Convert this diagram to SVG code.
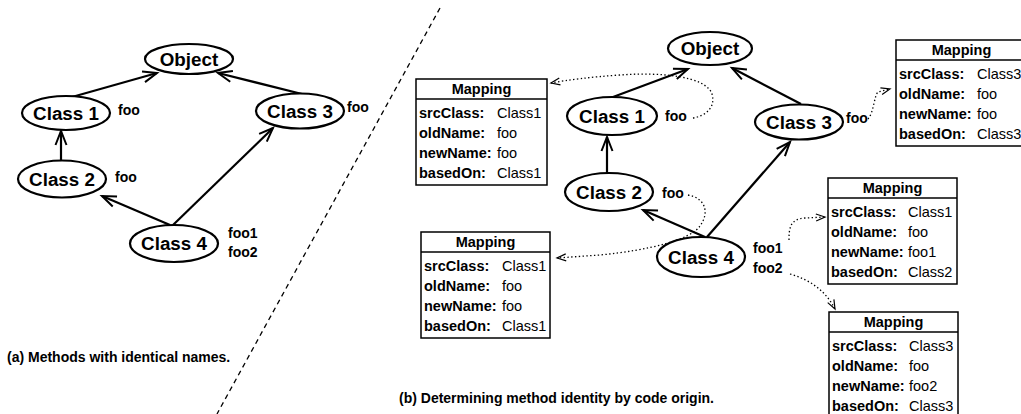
<svg xmlns="http://www.w3.org/2000/svg" width="1021" height="414" viewBox="0 0 1021 414">
  <style>
    .cls ellipse { fill: #fff; stroke: #000; stroke-width: 2.2; }
    .cls text { font-family: "Liberation Sans", Arial, sans-serif; font-weight: bold; font-size: 18.8px; text-anchor: middle; fill: #000; }
    .meth { font-family: "Liberation Sans", Arial, sans-serif; font-weight: bold; font-size: 14px; fill: #000; }
    .inh { stroke: #000; stroke-width: 2.2; fill: none; marker-end: url(#open); }
    .orig { stroke: #000; stroke-width: 1.3; fill: none; stroke-dasharray: 1.4 2.4; marker-end: url(#openSmall); }
    .map rect { fill: #fff; stroke: #000; stroke-width: 1.5; }
    .map line { stroke: #000; stroke-width: 1.5; }
    .map text { font-family: "Liberation Sans", Arial, sans-serif; font-size: 14.5px; fill: #000; }
    .map .hd { font-weight: bold; text-anchor: middle; }
    .map .k { font-weight: bold; }
    .cap { font-family: "Liberation Sans", Arial, sans-serif; font-weight: bold; font-size: 14px; fill: #000; }
  </style>
  <defs>
    <marker id="open" markerUnits="userSpaceOnUse" markerWidth="18" markerHeight="14" refX="15" refY="7" orient="auto">
      <path d="M1,1.5 L15,7 L1,12.5" fill="none" stroke="#000" stroke-width="2"/>
    </marker>
    <marker id="openSmall" markerUnits="userSpaceOnUse" markerWidth="12" markerHeight="10" refX="10" refY="5" orient="auto">
      <path d="M1,1.5 L10,5 L1,8.5" fill="none" stroke="#000" stroke-width="1.2"/>
    </marker>
  </defs>

  <!-- separator between the two halves -->
  <line x1="440" y1="8" x2="217" y2="414" stroke="#000" stroke-width="1.3" stroke-dasharray="5 4"/>

  <!-- (a) inheritance with same-named methods -->
  <g id="connectors-a">
    <line class="inh" x1="72" y1="97" x2="157" y2="73"/>
    <line class="inh" x1="302" y1="94" x2="218" y2="73"/>
    <line class="inh" x1="61" y1="161" x2="61" y2="131"/>
    <line class="inh" x1="170" y1="225" x2="102" y2="196"/>
    <line class="inh" x1="173" y1="225" x2="273" y2="128"/>
  </g>
  <g id="a-object" class="cls"><ellipse cx="189" cy="59" rx="44" ry="15"/><text x="189" y="65.5">Object</text></g>
  <g id="a-class1" class="cls"><ellipse cx="66" cy="113" rx="44" ry="17"/><text x="66" y="119.5">Class 1</text></g>
  <g id="a-class3" class="cls"><ellipse cx="300" cy="111" rx="44" ry="17.5"/><text x="300" y="117.5">Class 3</text></g>
  <g id="a-class2" class="cls"><ellipse cx="62" cy="179" rx="44" ry="18.5"/><text x="62" y="185.5">Class 2</text></g>
  <g id="a-class4" class="cls"><ellipse cx="174" cy="243.5" rx="44" ry="18.5"/><text x="174" y="250">Class 4</text></g>
  <g id="a-methods">
    <text class="meth" x="118" y="115">foo</text>
    <text class="meth" x="347" y="112">foo</text>
    <text class="meth" x="115" y="182">foo</text>
    <text class="meth" x="228" y="238">foo1</text>
    <text class="meth" x="228" y="257">foo2</text>
  </g>
  <text class="cap" x="7" y="362">(a) Methods with identical names.</text>

  <!-- (b) method identity traced by code origin -->
  <g id="connectors-b">
    <line class="inh" x1="613" y1="97" x2="688" y2="69"/>
    <line class="inh" x1="801" y1="104" x2="732" y2="68"/>
    <line class="inh" x1="607" y1="173" x2="607" y2="137"/>
    <line class="inh" x1="705" y1="237" x2="643" y2="210"/>
    <line class="inh" x1="707" y1="237" x2="790" y2="142"/>
    <path class="orig" d="M693,118 C705,116 716,108 712,94 C706,76 660,72 620,75 C590,77 568,80 551,83"/>
    <path class="orig" d="M688,195 C705,198 710,212 700,226 C690,240 650,250 600,255 L557,258"/>
    <path class="orig" d="M868,119 C874,112 874,96 878,92 L890,89"/>
    <path class="orig" d="M789,240 C789,228 790,219 805,218 L825,217"/>
    <path class="orig" d="M790,274 C810,280 825,290 835,309"/>
  </g>
  <g id="b-object" class="cls"><ellipse cx="710" cy="48.5" rx="42" ry="16.5"/><text x="710" y="55">Object</text></g>
  <g id="b-class1" class="cls"><ellipse cx="612" cy="116" rx="45" ry="19"/><text x="612" y="122.5">Class 1</text></g>
  <g id="b-class3" class="cls"><ellipse cx="799" cy="122" rx="44" ry="17.5"/><text x="799" y="128.5">Class 3</text></g>
  <g id="b-class2" class="cls"><ellipse cx="609" cy="192" rx="44" ry="19"/><text x="609" y="198.5">Class 2</text></g>
  <g id="b-class4" class="cls"><ellipse cx="701" cy="257" rx="44" ry="20"/><text x="701" y="263.5">Class 4</text></g>
  <g id="b-methods">
    <text class="meth" x="665" y="121">foo</text>
    <text class="meth" x="846" y="123">foo</text>
    <text class="meth" x="662" y="198">foo</text>
    <text class="meth" x="753" y="253">foo1</text>
    <text class="meth" x="753" y="273">foo2</text>
  </g>

  <g id="map-class1" class="map" transform="translate(416,79)">
    <rect x="0" y="0" width="131" height="106"/><line x1="0" y1="20" x2="131" y2="20"/>
    <text class="hd" x="65.5" y="15">Mapping</text>
    <text class="k" x="3" y="39">srcClass:</text><text x="81" y="39">Class1</text>
    <text class="k" x="3" y="59">oldName:</text><text x="81" y="59">foo</text>
    <text class="k" x="3" y="79">newName:</text><text x="81" y="79">foo</text>
    <text class="k" x="3" y="99">basedOn:</text><text x="81" y="99">Class1</text>
  </g>
  <g id="map-class2" class="map" transform="translate(421,232)">
    <rect x="0" y="0" width="129" height="106"/><line x1="0" y1="20" x2="129" y2="20"/>
    <text class="hd" x="64.5" y="15">Mapping</text>
    <text class="k" x="3" y="39">srcClass:</text><text x="81" y="39">Class1</text>
    <text class="k" x="3" y="59">oldName:</text><text x="81" y="59">foo</text>
    <text class="k" x="3" y="79">newName:</text><text x="81" y="79">foo</text>
    <text class="k" x="3" y="99">basedOn:</text><text x="81" y="99">Class1</text>
  </g>
  <g id="map-class3" class="map" transform="translate(896,40)">
    <rect x="0" y="0" width="131" height="106"/><line x1="0" y1="20" x2="131" y2="20"/>
    <text class="hd" x="65.5" y="15">Mapping</text>
    <text class="k" x="3" y="39">srcClass:</text><text x="81" y="39">Class3</text>
    <text class="k" x="3" y="59">oldName:</text><text x="81" y="59">foo</text>
    <text class="k" x="3" y="79">newName:</text><text x="81" y="79">foo</text>
    <text class="k" x="3" y="99">basedOn:</text><text x="81" y="99">Class3</text>
  </g>
  <g id="map-foo1" class="map" transform="translate(828,178)">
    <rect x="0" y="0" width="129" height="106"/><line x1="0" y1="20" x2="129" y2="20"/>
    <text class="hd" x="64.5" y="15">Mapping</text>
    <text class="k" x="3" y="39">srcClass:</text><text x="80" y="39">Class1</text>
    <text class="k" x="3" y="59">oldName:</text><text x="80" y="59">foo</text>
    <text class="k" x="3" y="79">newName:</text><text x="80" y="79">foo1</text>
    <text class="k" x="3" y="99">basedOn:</text><text x="80" y="99">Class2</text>
  </g>
  <g id="map-foo2" class="map" transform="translate(829,312)">
    <rect x="0" y="0" width="129" height="106"/><line x1="0" y1="20" x2="129" y2="20"/>
    <text class="hd" x="64.5" y="15">Mapping</text>
    <text class="k" x="3" y="39">srcClass:</text><text x="80" y="39">Class3</text>
    <text class="k" x="3" y="59">oldName:</text><text x="80" y="59">foo</text>
    <text class="k" x="3" y="79">newName:</text><text x="80" y="79">foo2</text>
    <text class="k" x="3" y="99">basedOn:</text><text x="80" y="99">Class3</text>
  </g>
  <text class="cap" x="399" y="403">(b) Determining method identity by code origin.</text>
</svg>
